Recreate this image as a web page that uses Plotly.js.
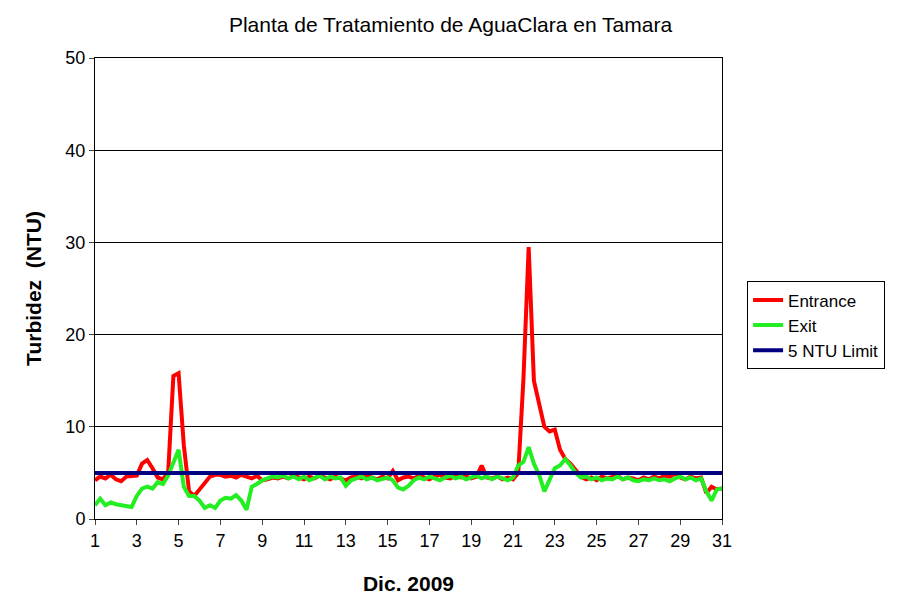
<!DOCTYPE html>
<html>
<head>
<meta charset="utf-8">
<script src="https://cdn.plot.ly/plotly-3.0.1.min.js"></script>
<style>body{margin:0;background:#fff}#chart{width:901px;height:615px}</style>
</head>
<body>
<div id="chart"></div>
<script>
// readings every 6 hours, Dec 1 to Dec 31 2009
var entrance = [
  4.2,4.6,4.4,4.8, 4.3,4.1,4.6,4.7, 4.7,6.0,6.4,5.5, 4.5,4.3,5.0,15.5,
  15.8,8.0,3.0,2.5, 3.2,4.0,4.6,4.8, 4.8,4.6,4.7,4.5, 4.8,4.6,4.4,4.7,
  4.2,4.3,4.5,4.4, 4.6,4.4,4.7,4.5, 4.3,4.6,4.4,4.7, 4.5,4.3,4.6,4.4,
  4.2,4.5,4.6,4.4, 4.7,4.5,4.3,4.6, 4.4,5.2,4.2,4.5, 4.6,4.4,4.7,4.5,
  4.3,4.6,4.8,4.5, 4.4,4.7,4.5,4.6, 4.4,4.6,5.8,4.5, 4.4,4.6,4.3,4.5,
  4.3,5.0,15.2,29.5, 15.0,12.5,10.0,9.5, 9.7,7.5,6.5,6.0, 5.3,4.6,4.3,4.5,
  4.2,4.6,4.4,4.5, 4.7,4.3,4.5,4.4, 4.2,4.5,4.3,4.6, 4.4,4.7,4.6,4.9,
  4.5,4.3,4.6,4.4, 4.5,2.8,3.5,3.2, 3.3
];
var exit = [
  1.5,2.2,1.5,1.8, 1.6,1.5,1.4,1.3, 2.5,3.3,3.5,3.3, 4.0,3.8,4.7,6.0,
  7.5,3.5,2.5,2.5, 2.0,1.2,1.5,1.2, 2.0,2.3,2.2,2.6, 2.0,1.0,3.5,3.8,
  4.2,4.4,4.6,4.5, 4.7,4.4,4.6,4.3, 4.6,4.2,4.5,4.7, 4.3,4.6,4.4,4.5,
  3.6,4.2,4.4,4.6, 4.3,4.5,4.2,4.4, 4.5,4.2,3.4,3.2, 3.6,4.2,4.5,4.3,
  4.6,4.4,4.2,4.5, 4.7,4.4,4.6,4.3, 4.5,4.7,4.4,4.6, 4.3,4.6,4.4,4.2,
  4.5,5.8,6.2,7.8, 6.0,4.8,3.0,4.2, 5.5,5.8,6.5,5.8, 5.0,4.5,4.6,4.3,
  4.5,4.2,4.4,4.3, 4.6,4.3,4.5,4.2, 4.1,4.3,4.2,4.4, 4.2,4.3,4.1,4.4,
  4.6,4.3,4.5,4.2, 4.4,3.0,2.0,3.2, 3.3
];
var limitValue = 5;
var days = entrance.map(function (v, i) { return 1 + i * 0.25; });
var tickDays = [1,3,5,7,9,11,13,15,17,19,21,23,25,27,29,31];

var font = "Arial, 'Liberation Sans', sans-serif";
var data = [
  {x: days, y: entrance, name: 'Entrance', mode: 'lines', line: {color: '#ff0000', width: 4}},
  {x: days, y: exit, name: 'Exit', mode: 'lines', line: {color: '#22ee22', width: 4}},
  {x: [1, 31], y: [limitValue, limitValue], name: '5 NTU Limit', mode: 'lines', line: {color: '#000080', width: 4}}
];
var layout = {
  width: 901, height: 615,
  margin: {l: 95, r: 179, t: 58, b: 96},
  font: {family: font, color: '#000'},
  title: {text: 'Planta de Tratamiento de AguaClara en Tamara', font: {size: 21}, x: 0.5, y: 0.96, yanchor: 'middle'},
  xaxis: {
    range: [1, 31], tickvals: tickDays, ticks: 'outside', ticklen: 5,
    tickfont: {size: 18}, showgrid: false, zeroline: false,
    showline: true, linecolor: '#000', mirror: true,
    title: {text: '<b>Dic. 2009</b>', font: {size: 21}, standoff: 26}
  },
  yaxis: {
    range: [0, 50], dtick: 10, ticks: 'outside', ticklen: 5,
    tickfont: {size: 18}, gridcolor: '#000', zeroline: false,
    showline: true, linecolor: '#000', mirror: true,
    title: {text: '<b>Turbidez  (NTU)</b>', font: {size: 21}, standoff: 18}
  },
  legend: {x: 1.04, y: 0.42, yanchor: 'middle', bordercolor: '#000', borderwidth: 1, font: {size: 17}, tracegroupgap: 0},
  showlegend: true,
  plot_bgcolor: '#fff', paper_bgcolor: '#fff'
};
Plotly.newPlot('chart', data, layout, {displayModeBar: false});
</script>
</body>
</html>
